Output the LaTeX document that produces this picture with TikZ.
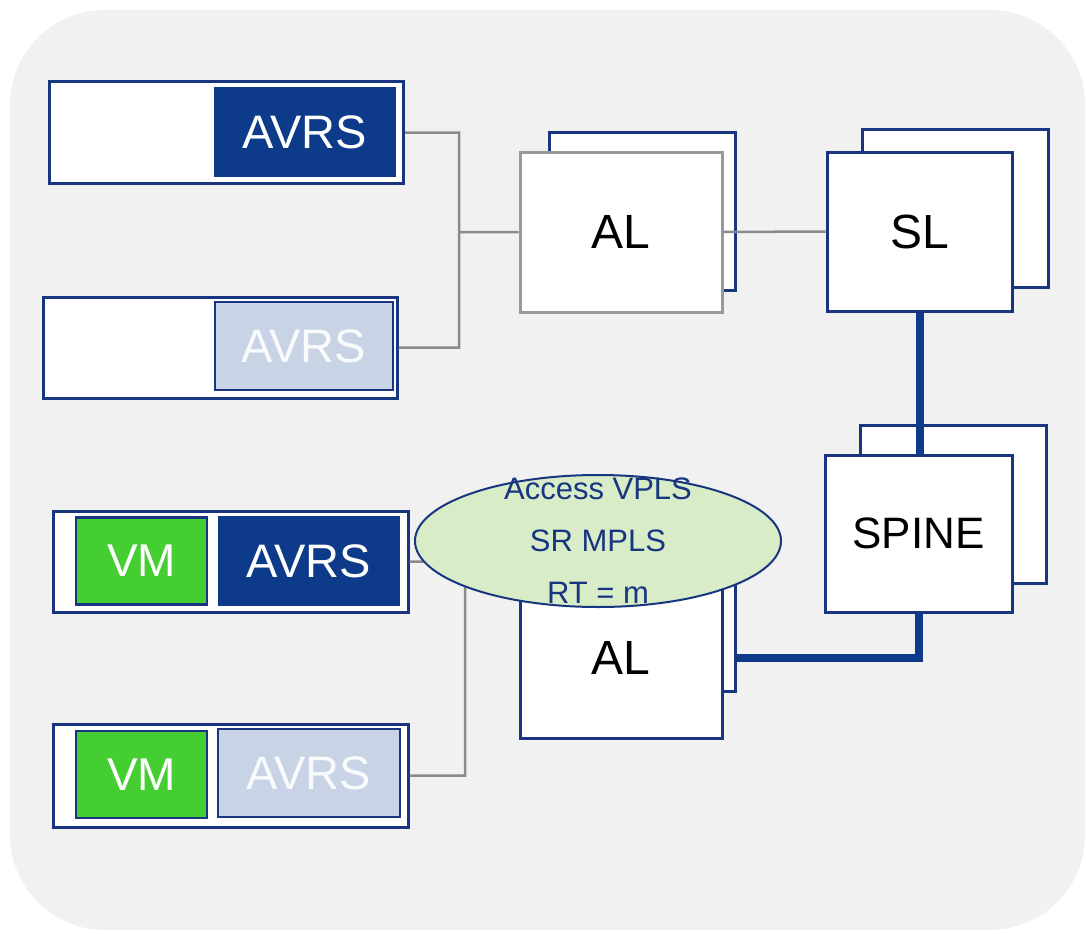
\documentclass[tikz,border=0pt]{standalone}
\usepackage{fontspec}
\setmainfont{Liberation Sans}
\usepackage{tikz}
\usetikzlibrary{shapes.geometric}
\definecolor{navy}{RGB}{24,54,128}
\definecolor{avrsdark}{RGB}{14,58,138}
\definecolor{avrslight}{RGB}{200,211,230}
\definecolor{vmgreen}{RGB}{68,206,50}
\definecolor{bggray}{RGB}{241,241,241}
\definecolor{linegray}{RGB}{138,138,138}
\definecolor{cloudgreen}{RGB}{216,236,200}
\tikzstyle{host}=[rectangle, draw=navy, line width=3pt, fill=white, inner sep=0pt, minimum width=354pt, minimum height=101pt]
\tikzstyle{avrs}=[rectangle, fill=avrsdark, text=white, inner sep=0pt, minimum width=182pt, minimum height=90pt, font=\fontsize{47}{50}\selectfont]
\tikzstyle{avrsidle}=[avrs, fill=avrslight, draw=navy, line width=2.5pt, text=white!88!avrslight, minimum width=178pt, minimum height=88pt]
\tikzstyle{vm}=[rectangle, fill=vmgreen, draw=navy, line width=2.5pt, text=white, inner sep=0pt, minimum width=131pt, minimum height=87pt, font=\fontsize{46}{50}\selectfont]
\tikzstyle{router}=[rectangle, draw=navy, line width=3pt, fill=white, minimum width=186pt, minimum height=158pt, font=\fontsize{48}{50}\selectfont]
\tikzstyle{link}=[draw=linegray, line width=2.5pt]
\tikzstyle{trunk}=[draw=avrsdark, line width=8pt]
\newcommand{\router}{\node[router]}

\begin{document}
\begin{tikzpicture}[x=1pt, y=-1pt]
\useasboundingbox (0,0) rectangle (1087,934);
\fill[bggray, rounded corners=95pt] (10,10) rectangle (1085,930);

\router (al1b) at (642,211.5) {};
\router (slb) at (955,208) {};
\router (spineb) at (953.5,504.5) {};
\router (al2b) at (642,612.5) {};

\coordinate (jt) at (459,232);
\coordinate (jb) at (465,658);
\router[draw=gray!80, minimum width=202pt, minimum height=160pt] (al1) at (621,232) {AL};
\router[minimum width=185pt, minimum height=159pt] (sl) at (919.5,231.5) {SL};
\router[minimum width=187pt, minimum height=157pt, font=\fontsize{44}{50}\selectfont] (spine) at (918.5,533.5) {SPINE};
\node[host] (h1) at (226.5,132.5) {};
\node[host] (h2) at (220,347.5) {};
\node[host, minimum width=355pt] (h3) at (230.5,561.5) {};
\node[host, minimum width=355pt, minimum height=103pt] (h4) at (230.5,775.5) {};
\path[link]
    (h1.east) -| (jt)
    (h2.east) -| (jt)
    (jt) -- (al1.west)
    (al1.east) -- (sl.west)
    (h3.east) -| (jb)
    (h4.east) -| (jb)
;
\path[trunk]
    (sl.south) -- (sl.south |- spine.north)
    (spine.south) |- (al2b.east |- jb)
;
\router[minimum width=202pt, minimum height=160pt] (al2) at (621,658) {AL};
\node[avrs] (a1) at (305,132) {AVRS};
\node[avrsidle] (a2) at (304,346) {AVRS};
\node[vm] (vm1) at (141.5,561) {VM};
\node[avrs] (a3) at (309,561) {AVRS};
\node[vm] (vm2) at (141.5,774.5) {VM};
\node[avrsidle, minimum width=182pt] (a4) at (309,773) {AVRS};

\node[ellipse, draw=navy, line width=2pt, fill=cloudgreen, minimum width=366pt, minimum height=132pt, inner sep=0pt] (vpls) at (598,541) {};
\node[align=center, text=navy, font=\fontsize{31}{52}\selectfont] (vplstext) at (vpls.center) {Access VPLS\\SR MPLS\\RT = m};
\end{tikzpicture}
\end{document}
